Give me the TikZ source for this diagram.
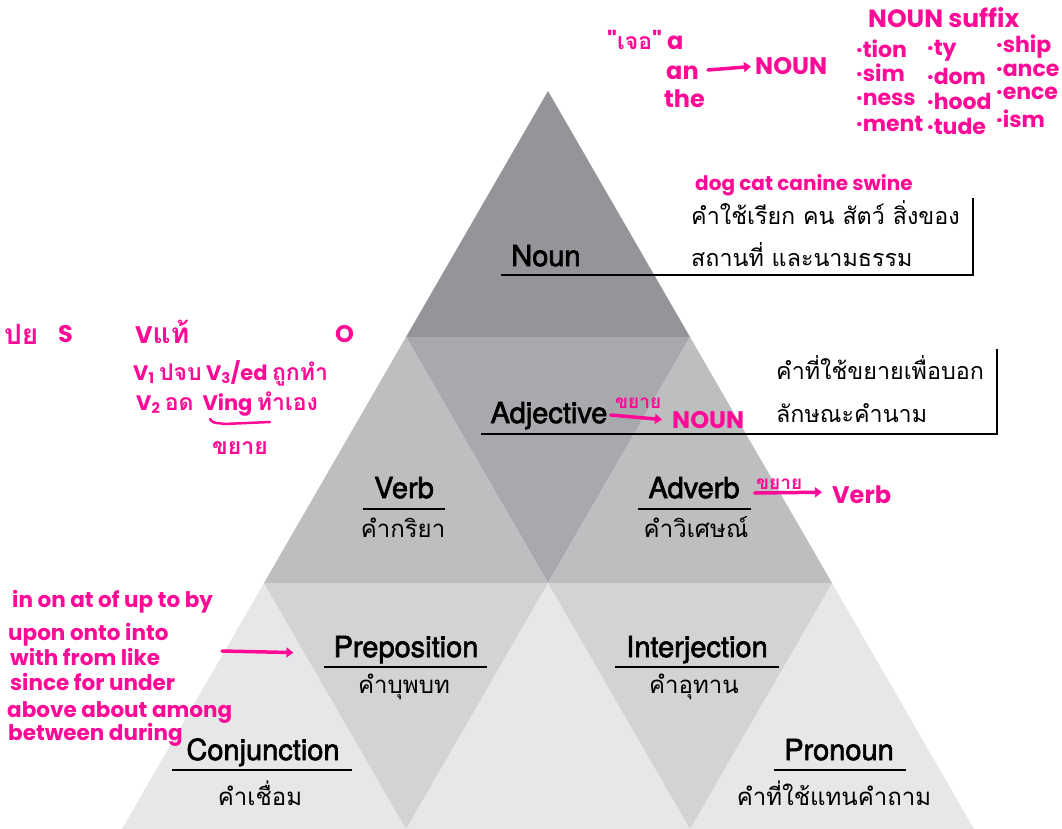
\documentclass[tikz,border=0pt]{standalone}
\usepackage{fontspec}
\setmainfont{TeX Gyre Heros}
\newfontfamily\lblfont{TeX Gyre Heros}[FakeBold=2.2]
\newfontfamily\thaifont[Script=Thai]{Loma}
\newfontfamily\handfont{Poppins}
\newfontfamily\handthai[Script=Thai]{Loma}
\usetikzlibrary{arrows.meta}
\definecolor{hpink}{RGB}{255,10,150}
\definecolor{gA}{HTML}{939598}
\definecolor{gB}{HTML}{A7A9AC}
\definecolor{gC}{HTML}{BCBEC0}
\definecolor{gD}{HTML}{D1D3D4}
\definecolor{gE}{HTML}{E6E7E8}
\newcommand{\thw}[1]{{\handthai\bfseries\fontsize{23}{25}\selectfont #1}}
\newcommand{\thwb}[1]{{\handthai\bfseries\fontsize{28}{30}\selectfont #1}}
\begin{document}
\begin{tikzpicture}[x=1pt,y=-1pt,
  lbl/.style={font=\lblfont\fontsize{29}{31}\selectfont, inner sep=0pt, anchor=base},
  th/.style={font=\thaifont\fontsize{24}{26}\selectfont, inner sep=0pt, anchor=base},
  thl/.style={th, font=\thaifont\fontsize{23.3}{25}\selectfont, anchor=base west},
  scrawl/.style={text=hpink, font=\handfont\bfseries\fontsize{21}{23}\selectfont, inner sep=0pt, anchor=base west},
  suffix/.style={scrawl, font=\handfont\bfseries\fontsize{22}{24}\selectfont},
  big/.style={scrawl, font=\handfont\bfseries\fontsize{24}{26}\selectfont},
  prepw/.style={scrawl, font=\handfont\bfseries\fontsize{21.5}{23}\selectfont},
  rule/.style={line width=2.5pt, line join=miter},
  parrow/.style={draw=hpink, line width=3.5pt, line cap=round, -{Triangle[length=7pt,width=10pt]}},
]
\useasboundingbox (0,0) rectangle (1062,829);
\fill[white] (0,0) rectangle (1062,829);
% pyramid
\fill[gA] (548,91) -- (406,337) -- (690,337) -- cycle;
\fill[gB] (406,337) -- (690,337) -- (548,583) -- cycle;
\fill[gC] (406,337) -- (264,583) -- (548,583) -- cycle;
\fill[gC] (690,337) -- (548,583) -- (832,583) -- cycle;
\fill[gE] (264,583) -- (122,829) -- (406,829) -- cycle;
\fill[gE] (548,583) -- (406,829) -- (690,829) -- cycle;
\fill[gE] (832,583) -- (690,829) -- (974,829) -- cycle;
\fill[gD] (264,583) -- (548,583) -- (406,829) -- cycle;
\fill[gD] (548,583) -- (832,583) -- (690,829) -- cycle;
% labels
\node[lbl] (noun) at (546,266) {Noun};
\node[thl] (nounth1) at (691,224) {คำใช้เรียก คน สัตว์ สิ่งของ};
\node[thl] (nounth2) at (691,266) {สถานที่ และนามธรรม};
\draw[rule] (501,275) -- (973,275) -- (973,198);
\node[lbl] (adj) at (549,423) {Adjective};
\node[thl] (adjth1) at (776,379) {คำที่ใช้ขยายเพื่อบอก};
\node[thl] (adjth2) at (776,422) {ลักษณะคำนาม};
\draw[rule] (481,434) -- (997,434) -- (997,349);
\node[lbl] (verb) at (404,498) {Verb};
\node[th] (verbth) at (403,537) {คำกริยา};
\draw[rule] (363,509) -- (445,509);
\node[lbl] (adv) at (694,498) {Adverb};
\node[th] (advth) at (696,537) {คำวิเศษณ์};
\draw[rule] (638,509) -- (751,509);
\node[lbl] (prep) at (406,657) {Preposition};
\node[th] (prepth) at (404,693) {คำบุพบท};
\draw[rule] (324,667) -- (487,667);
\node[lbl] (interj) at (697,657) {Interjection};
\node[th] (interjth) at (694,693) {คำอุทาน};
\draw[rule] (615,667) -- (779,667);
\node[lbl] (conj) at (263,760) {Conjunction};
\node[th] (conjth) at (260,805) {คำเชื่อม};
\draw[rule] (172,770) -- (352,770);
\node[lbl] (pron) at (839,760) {Pronoun};
\node[th] (pronth) at (834,805) {คำที่ใช้แทนคำถาม};
\draw[rule] (774,770) -- (906,770);
% handwritten notes
\node[scrawl, font=\handfont\bfseries\fontsize{20}{22}\selectfont] (dog) at (695,190) {dog cat canine swine};
\node[big] (art1) at (607,50) {"\thw{เจอ}" a};
\node[big] (art2) at (666,80) {an};
\node[big] (art3) at (664,108) {the};
\node[big] (artnoun) at (755,75) {NOUN};
\coordinate (artstart) at (708,70);
\draw[parrow] (artstart) -- ([xshift=-4pt]artnoun.west);
\node[scrawl, font=\handfont\bfseries\fontsize{25}{27}\selectfont] (suf) at (868,28) {NOUN suffix};
\node[suffix] (s1) at (856,58) {·tion};
\node[suffix] (s2) at (856,82) {·sim};
\node[suffix] (s3) at (856,106) {·ness};
\node[suffix] (s4) at (856,132) {·ment};
\node[suffix] (s5) at (927,56) {·ty};
\node[suffix] (s6) at (927,85) {·dom};
\node[suffix] (s7) at (927,110) {·hood};
\node[suffix] (s8) at (927,135) {·tude};
\node[suffix] (s9) at (996,53) {·ship};
\node[suffix] (s10) at (996,77) {·ance};
\node[suffix] (s11) at (996,100) {·ence};
\node[suffix] (s12) at (996,128) {·ism};
% sentence notes
\node[scrawl] (py) at (4,344) {\thwb{ปย}};
\node[big] (sS) at (58,342) {S};
\node[big] (sV) at (135,343) {V\thwb{แท้}};
\node[big] (sO) at (335,342) {O};
\node[scrawl] (v13) at (133,380) {V\textsubscript{1} \thw{ปจบ} V\textsubscript{3}/ed \thw{ถูกทำ}};
\node[scrawl] (v2) at (136,410) {V\textsubscript{2} \thw{อด} \ Ving \thw{ทำเอง}};
\draw[hpink, line width=2.5pt, line cap=round] (210,419) .. controls (214,425) and (218,422) .. (224,424) -- (270,422);
\node[scrawl] (khayai) at (212,454) {\thw{ขยาย}};
% adjective / adverb notes
\node[scrawl, font=\handthai\bfseries\fontsize{19}{21}\selectfont] (adjk) at (615,408) {ขยาย};
\node[big] (adjnoun) at (672,428) {NOUN};
\draw[parrow] ([xshift=3pt,yshift=8pt]adj.base east) -- ([xshift=-10pt]adjnoun.west);
\node[scrawl, font=\handthai\bfseries\fontsize{19}{21}\selectfont] (advk) at (756,489) {ขยาย};
\node[big] (advverb) at (832,503) {Verb};
\draw[parrow] ([xshift=15pt,yshift=5pt]adv.base east) -- ([xshift=-10pt,yshift=2pt]advverb.west);
% preposition notes
\node[prepw] (p1) at (12,607) {in on at of up to by};
\node[prepw] (p2) at (8,640) {upon onto into};
\node[prepw] (p3) at (10,665) {with from like};
\node[prepw] (p4) at (10,690) {since for under};
\node[prepw] (p5) at (7,717) {above about among};
\node[prepw] (p6) at (8,740) {between during};
\coordinate (pstart) at (222,651);
\draw[parrow] (pstart) -- ([xshift=-40pt,yshift=-3pt]prep.west);
\end{tikzpicture}
\end{document}
